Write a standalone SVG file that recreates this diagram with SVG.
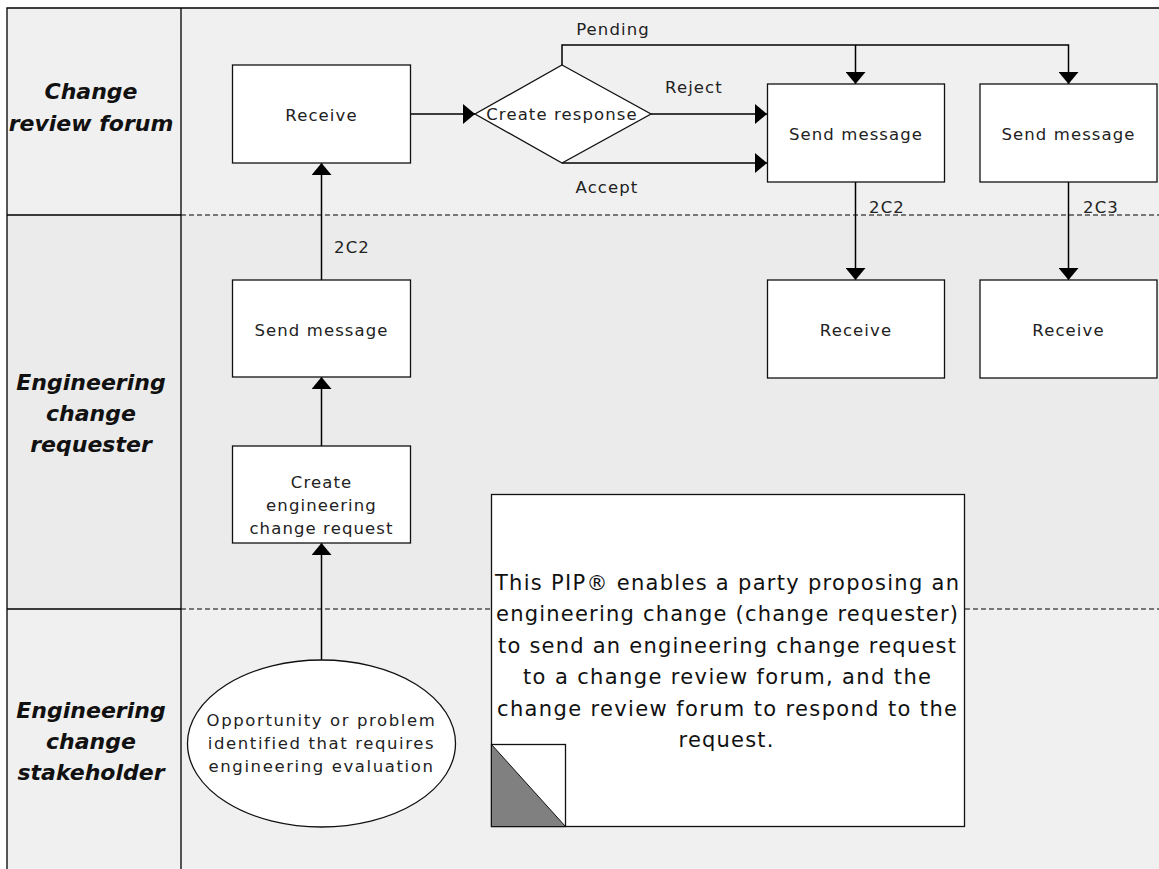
<svg xmlns="http://www.w3.org/2000/svg" width="1159" height="869" viewBox="0 0 1159 869">
<style>
.lane1{fill:#f0f0f0}
.lane2{fill:#ebebeb}
.border{stroke:#000;stroke-width:1.3;fill:none}
.dash{stroke:#000;stroke-width:1.2;stroke-dasharray:5 3;fill:none}
.box{fill:#fff;stroke:#111;stroke-width:1.3}
.lbl{font-family:"DejaVu Sans",Verdana,sans-serif;font-size:22px;font-weight:bold;font-style:italic;fill:#111;text-anchor:middle}
.t{font-family:"DejaVu Sans",Verdana,sans-serif;font-size:16.5px;letter-spacing:1.1px;fill:#222;text-anchor:middle}
.te{letter-spacing:1.6px}
.note{font-family:"DejaVu Sans",Verdana,sans-serif;font-size:21px;fill:#111;text-anchor:middle}
.conn{stroke:#000;stroke-width:1.5;fill:none}
</style>
<defs>
<marker id="arr" viewBox="0 0 12 20" refX="12" refY="10" markerWidth="12" markerHeight="20" orient="auto" markerUnits="userSpaceOnUse">
<path d="M0,0 L12,10 L0,20 Z" fill="#000"/>
</marker>
</defs>
<rect width="1159" height="869" fill="#fff"/>
<g id="lanes">
<rect x="7" y="8" width="1152" height="207" class="lane1"/>
<rect x="7" y="215" width="1152" height="394" class="lane2"/>
<rect x="7" y="609" width="1152" height="260" class="lane1"/>
<path class="border" d="M7,869 V8 H1159 M181,8 V869 M7,215 H181 M7,609 H181"/>
<path class="dash" d="M181,215 H1159 M181,609 H1159"/>
<text class="lbl" x="91" y="99">Change</text>
<text class="lbl" x="91" y="131">review forum</text>
<text class="lbl" x="91" y="390">Engineering</text>
<text class="lbl" x="91" y="421">change</text>
<text class="lbl" x="91" y="452">requester</text>
<text class="lbl" x="91" y="718">Engineering</text>
<text class="lbl" x="91" y="749">change</text>
<text class="lbl" x="91" y="780">stakeholder</text>
</g>
<g id="connectors">
<path class="conn" d="M410.5,114 H475" marker-end="url(#arr)"/>
<path class="conn" d="M562,65 V45 H1068.5 V84" marker-end="url(#arr)"/>
<path class="conn" d="M855.5,45 V84" marker-end="url(#arr)"/>
<path class="conn" d="M651,114 H767" marker-end="url(#arr)"/>
<path class="conn" d="M562,163 H767" marker-end="url(#arr)"/>
<path class="conn" d="M855.5,182 V280" marker-end="url(#arr)"/>
<path class="conn" d="M1068.5,182 V280" marker-end="url(#arr)"/>
<path class="conn" d="M321.5,280 V163" marker-end="url(#arr)"/>
<path class="conn" d="M321.5,446 V377" marker-end="url(#arr)"/>
<path class="conn" d="M321.5,660 V543" marker-end="url(#arr)"/>
<text class="t" x="613" y="35">Pending</text>
<text class="t" x="694" y="93">Reject</text>
<text class="t" x="607" y="193">Accept</text>
<text class="t" x="887" y="213">2C2</text>
<text class="t" x="1101" y="213">2C3</text>
<text class="t" x="352" y="253">2C2</text>
</g>
<g id="receive-forum">
<rect class="box" x="232.5" y="65" width="178" height="98"/>
<text class="t" x="321.5" y="121">Receive</text>
</g>
<g id="create-response">
<polygon class="box" points="562,65 651,114 562,163 475,114"/>
<text class="t" x="562" y="120">Create response</text>
</g>
<g id="send-message-2c2">
<rect class="box" x="767.5" y="84" width="177" height="98"/>
<text class="t" x="856" y="140">Send message</text>
</g>
<g id="send-message-2c3">
<rect class="box" x="980" y="84" width="177" height="98"/>
<text class="t" x="1068.5" y="140">Send message</text>
</g>
<g id="receive-2c2">
<rect class="box" x="767.5" y="280" width="177" height="98"/>
<text class="t" x="856" y="336">Receive</text>
</g>
<g id="receive-2c3">
<rect class="box" x="980" y="280" width="177" height="98"/>
<text class="t" x="1068.5" y="336">Receive</text>
</g>
<g id="send-message-requester">
<rect class="box" x="232.5" y="280" width="178" height="97"/>
<text class="t" x="321.5" y="336">Send message</text>
</g>
<g id="create-ecr">
<rect class="box" x="232.5" y="446" width="178" height="97"/>
<text class="t" x="321.5" y="488">Create</text>
<text class="t" x="321.5" y="511">engineering</text>
<text class="t" x="321.5" y="534">change request</text>
</g>
<g id="opportunity">
<ellipse class="box" cx="321.5" cy="743.5" rx="134" ry="83.5"/>
<text class="t te" x="321.5" y="726">Opportunity or problem</text>
<text class="t te" x="321.5" y="749">identified that requires</text>
<text class="t te" x="321.5" y="772">engineering evaluation</text>
</g>
<g id="note">
<rect class="box" x="491.5" y="494.5" width="473" height="332"/>
<rect class="box" x="491.5" y="744.5" width="74" height="82"/>
<polygon points="491.5,744.5 565.5,826.5 491.5,826.5" fill="#808080" stroke="#111" stroke-width="1"/>
<text class="note" x="727" y="590" textLength="464" lengthAdjust="spacing">This PIP® enables a party proposing an</text>
<text class="note" x="727" y="621" textLength="462" lengthAdjust="spacing">engineering change (change requester)</text>
<text class="note" x="727" y="653" textLength="458" lengthAdjust="spacing">to send an engineering change request</text>
<text class="note" x="727" y="684" textLength="408" lengthAdjust="spacing">to a change review forum, and the</text>
<text class="note" x="727" y="716" textLength="460" lengthAdjust="spacing">change review forum to respond to the</text>
<text class="note" x="726" y="747" textLength="95" lengthAdjust="spacing">request.</text>
</g>
</svg>
